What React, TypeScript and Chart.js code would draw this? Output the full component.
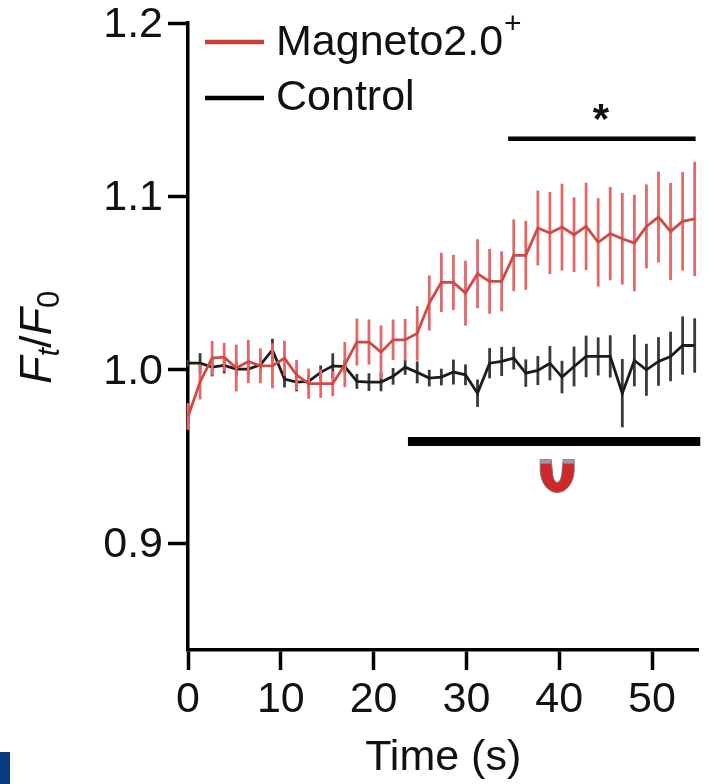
import React, { useEffect, useRef } from "react";
import { Chart, registerables } from "chart.js";

Chart.register(...registerables);

const FONT = '"Liberation Sans", Arial, sans-serif';

const times = [0, 1.3, 2.6, 3.9, 5.2, 6.5, 7.8, 9.1, 10.4, 11.7, 13, 14.3, 15.6, 16.9, 18.2, 19.5, 20.8, 22.1, 23.4, 24.7, 26, 27.3, 28.6, 29.9, 31.2, 32.5, 33.8, 35.1, 36.4, 37.7, 39, 40.3, 41.6, 42.9, 44.2, 45.5, 46.8, 48.1, 49.4, 50.7, 52, 53.3, 54.6];

const magnetoMean = [0.9731, 0.993, 1.0067, 1.0073, 1.001, 1.0048, 1.0023, 1.0023, 1.0067, 0.997, 0.992, 0.992, 0.992, 1.003, 1.016, 1.016, 1.0102, 1.0173, 1.0173, 1.021, 1.0385, 1.0504, 1.0504, 1.0442, 1.0554, 1.051, 1.051, 1.066, 1.066, 1.0818, 1.0789, 1.0823, 1.0779, 1.0827, 1.0735, 1.0785, 1.0756, 1.0731, 1.0827, 1.0881, 1.0798, 1.0856, 1.087];
const magnetoSem = [0.0077, 0.0101, 0.0099, 0.0082, 0.0135, 0.0125, 0.0101, 0.013, 0.0101, 0.0087, 0.0087, 0.0082, 0.0072, 0.013, 0.0135, 0.013, 0.0154, 0.0117, 0.012, 0.0157, 0.0159, 0.0171, 0.0159, 0.0187, 0.0199, 0.0187, 0.0173, 0.0207, 0.0199, 0.0216, 0.0237, 0.025, 0.0215, 0.0252, 0.0255, 0.0269, 0.0264, 0.0278, 0.0242, 0.0262, 0.028, 0.0284, 0.033];

const controlMean = [1.0038, 1.0038, 1.0015, 1.0025, 1.0004, 1.0004, 1.0029, 1.0115, 0.9946, 0.9929, 0.9933, 0.9985, 1.0023, 1.0019, 0.9933, 0.9929, 0.9929, 0.9962, 1.0015, 0.9985, 0.9952, 0.9958, 0.9987, 0.9971, 0.9865, 1.0038, 1.0048, 1.0067, 0.9981, 0.9996, 1.0038, 0.9958, 1.0019, 1.0077, 1.0077, 1.0077, 0.9865, 1.0054, 1.0, 1.0048, 1.0077, 1.014, 1.014];
const controlSem = [0.002, 0.0058, 0.0053, 0.0046, 0.0042, 0.0034, 0.0038, 0.0064, 0.0048, 0.0053, 0.0038, 0.004, 0.0072, 0.0038, 0.0043, 0.0051, 0.0053, 0.0048, 0.0044, 0.0063, 0.0048, 0.0048, 0.0072, 0.006, 0.0079, 0.0087, 0.0084, 0.0065, 0.0079, 0.0084, 0.0099, 0.0094, 0.0115, 0.012, 0.011, 0.0122, 0.0197, 0.0149, 0.015, 0.014, 0.0143, 0.0168, 0.0157];

const xTicks = [0, 10, 20, 30, 40, 50];
const yTicks = [0.9, 1.0, 1.1, 1.2];
const sigBarX = [34.5, 54.7];
const sigBarY = [1.1333, 1.1333];
const stimBarX = [23.7, 55.2];
const stimBarY = [0.9586, 0.9586];
const labels = ["Magneto2.0", "Control"];

const RED = "#cf4a46";
const BLACK = "#1c1c1c";

const errorBars = {
  id: "errorBars",
  beforeDatasetDraw(chart: any, args: any) {
    const ds = chart.data.datasets[args.index];
    if (!ds.sem) return;
    const { x, y } = chart.scales;
    const ctx = chart.ctx;
    ctx.save();
    ctx.strokeStyle = ds.errorColor;
    ctx.lineWidth = 2.8;
    ds.data.forEach((p: any, i: number) => {
      const px = x.getPixelForValue(p.x);
      ctx.beginPath();
      ctx.moveTo(px, y.getPixelForValue(p.y - ds.sem[i]));
      ctx.lineTo(px, y.getPixelForValue(p.y + ds.sem[i]));
      ctx.stroke();
    });
    ctx.restore();
  },
};

const decorations = {
  id: "decorations",
  afterDraw(chart: any) {
    const { ctx } = chart;
    const { x, y } = chart.scales;
    ctx.save();
    ctx.textBaseline = "alphabetic";
    ctx.textAlign = "left";
    ctx.fillStyle = "#111";

    // legend
    ctx.lineWidth = 4.5;
    ctx.strokeStyle = "#c8403a";
    ctx.beginPath(); ctx.moveTo(205, 42); ctx.lineTo(264, 42); ctx.stroke();
    ctx.strokeStyle = "#000";
    ctx.beginPath(); ctx.moveTo(205, 98); ctx.lineTo(264, 98); ctx.stroke();
    ctx.font = `43px ${FONT}`;
    ctx.fillText(labels[0], 276, 55);
    ctx.fillText(labels[1], 276, 110);
    ctx.font = `30px ${FONT}`;
    ctx.fillText("+", 504, 33);

    // significance star
    ctx.font = `bold 42px ${FONT}`;
    ctx.textAlign = "center";
    ctx.fillText("*", x.getPixelForValue(44.5), 133);
    ctx.textAlign = "left";

    // y axis title
    ctx.save();
    ctx.translate(51, 384);
    ctx.rotate(-Math.PI / 2);
    let cx = 0;
    const run = (t: string, font: string, dy: number) => {
      ctx.font = font;
      ctx.fillText(t, cx, dy);
      cx += ctx.measureText(t).width;
    };
    run("F", `italic 45px ${FONT}`, 0);
    run("t", `italic 31px ${FONT}`, 8);
    run("/", `45px ${FONT}`, 0);
    run("F", `italic 45px ${FONT}`, 0);
    run("0", `31px ${FONT}`, 8);
    ctx.restore();

    // magnet
    const mx = x.getPixelForValue(40) - 2;
    const my = y.getPixelForValue(0.9586) + 18;
    ctx.beginPath();
    ctx.moveTo(mx - 17, my);
    ctx.lineTo(mx - 17, my + 10);
    ctx.ellipse(mx, my + 10, 17, 23, 0, Math.PI, 0, true);
    ctx.lineTo(mx + 17, my);
    ctx.lineTo(mx + 6, my);
    ctx.lineTo(mx + 5, my + 10);
    ctx.ellipse(mx, my + 10, 5, 13, 0, 0, Math.PI, false);
    ctx.lineTo(mx - 6, my);
    ctx.closePath();
    ctx.fillStyle = "#d1262b";
    ctx.strokeStyle = "#777";
    ctx.lineWidth = 1;
    ctx.fill();
    ctx.stroke();
    ctx.fillStyle = "#a09a9a";
    ctx.fillRect(mx - 17, my, 11, 4);
    ctx.fillRect(mx + 6, my, 11, 4);

    // page fragment at the lower left corner
    ctx.fillStyle = "#0a3a80";
    ctx.fillRect(0, 752, 10, 32);
    ctx.restore();
  },
};

const toPoints = (xs: number[], ys: number[]) => xs.map((v, i) => ({ x: v, y: ys[i] }));

export default function App() {
  const ref = useRef<HTMLCanvasElement>(null);
  useEffect(() => {
    const chart = new Chart(ref.current as HTMLCanvasElement, {
      type: "line",
      data: {
        datasets: [
          { label: labels[0], data: toPoints(times, magnetoMean), borderColor: RED, borderWidth: 2.8, pointRadius: 0, tension: 0, clip: false, sem: magnetoSem, errorColor: "#e2686a" },
          { label: labels[1], data: toPoints(times, controlMean), borderColor: BLACK, borderWidth: 2.8, pointRadius: 0, tension: 0, clip: false, sem: controlSem, errorColor: "#3a3a3a" },
          { label: "p", data: toPoints(sigBarX, sigBarY), borderColor: "#000", borderWidth: 4.5, pointRadius: 0, clip: false },
          { label: "magnet on", data: toPoints(stimBarX, stimBarY), borderColor: "#000", borderWidth: 9, pointRadius: 0, clip: false },
        ] as any,
      },
      options: {
        responsive: false,
        animation: false,
        layout: { padding: { top: 23, right: 21.6, left: 0, bottom: 0 } },
        plugins: { legend: { display: false }, tooltip: { enabled: false } },
        scales: {
          x: {
            type: "linear",
            min: 0,
            max: 55,
            afterFit: (s: any) => { s.height = 134; s.paddingLeft = 0; s.paddingRight = 0; },
            afterBuildTicks: (s: any) => { s.ticks = xTicks.map((value) => ({ value })); },
            grid: { drawOnChartArea: false, tickLength: 20, tickWidth: 3.5, tickColor: "#000" },
            border: { display: true, width: 3.5, color: "#000" },
            ticks: { font: { family: FONT, size: 43 }, color: "#111", padding: 4, maxRotation: 0, autoSkip: false },
            title: { display: true, text: "Time (s)", font: { family: FONT, size: 43 }, color: "#111", padding: 0 },
          },
          y: {
            type: "linear",
            min: 0.8384,
            max: 1.2,
            afterFit: (s: any) => { s.width = 188; s.paddingTop = 0; s.paddingBottom = 0; },
            afterBuildTicks: (s: any) => { s.ticks = yTicks.map((value) => ({ value })); },
            grid: { drawOnChartArea: false, tickLength: 20, tickWidth: 3.5, tickColor: "#000" },
            border: { display: true, width: 3.5, color: "#000" },
            ticks: { font: { family: FONT, size: 43 }, color: "#111", padding: 5, labelOffset: 2, callback: (v: any) => Number(v).toFixed(1), autoSkip: false },
          },
        },
      } as any,
      plugins: [errorBars, decorations],
    });
    return () => chart.destroy();
  }, []);
  return (
    <canvas
      ref={ref}
      width={720}
      height={784}
      style={{ position: "fixed", left: 0, top: 0, width: 720, height: 784, background: "#fff" }}
    />
  );
}
